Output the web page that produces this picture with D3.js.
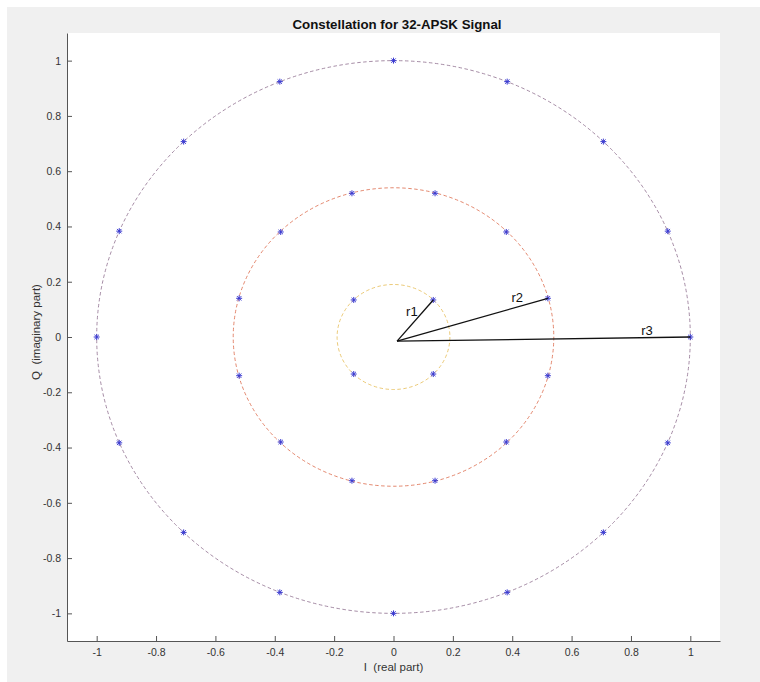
<!DOCTYPE html>
<html>
<head>
<meta charset="utf-8">
<script src="https://cdn.jsdelivr.net/npm/d3@7"></script>
<style>
  body { margin: 0; background: #fff; }
  text { font-family: "Liberation Sans", Arial, sans-serif; }
</style>
</head>
<body>
<script>
// ring radii (r1, r2, r3)
var ringRadius = [0.19, 0.54, 1.0];
var ringColor = ["#e6bd55", "#dc6a4a", "#8e6f8e"];

// constellation points
var innerI = [0.134, -0.134, -0.134, 0.134];
var innerQ = [0.134, 0.134, -0.134, -0.134];
var middleI = [0.52, 0.38, 0.14, -0.14, -0.38, -0.52, -0.52, -0.38, -0.14, 0.14, 0.38, 0.52];
var middleQ = [0.14, 0.38, 0.52, 0.52, 0.38, 0.14, -0.14, -0.38, -0.52, -0.52, -0.38, -0.14];
var outerI = [1, 0.924, 0.707, 0.383, 0, -0.383, -0.707, -0.924, -1, -0.924, -0.707, -0.383, 0, 0.383, 0.707, 0.924];
var outerQ = [0, 0.383, 0.707, 0.924, 1, 0.924, 0.707, 0.383, 0, -0.383, -0.707, -0.924, -1, -0.924, -0.707, -0.383];

// radius annotation lines
var radiusStart = [0.012, -0.015];
var radiusEndI = [0.134, 0.52, 1.0];
var radiusEndQ = [0.134, 0.14, 0.0];
var radiusLabels = ["r1", "r2", "r3"];
var labelI = [0.062, 0.417, 0.854];
var labelQ = [0.094, 0.143, 0.024];

var tickValues = [-1, -0.8, -0.6, -0.4, -0.2, 0, 0.2, 0.4, 0.6, 0.8, 1];

var width = 760, height = 682;
var svg = d3.select("body").append("svg")
  .attr("width", width)
  .attr("height", height);

svg.append("rect").attr("width", width).attr("height", height).attr("fill", "#fff");
svg.append("rect").attr("x", 7).attr("y", 7)
  .attr("width", width - 7).attr("height", height - 7)
  .attr("fill", "#f0f0f0");

var x = d3.scaleLinear().domain([-1.1, 1.1]).range([67, 720]);
var y = d3.scaleLinear().domain([-1.1, 1.1]).range([641, 33]);

svg.append("rect")
  .attr("x", x(-1.1)).attr("y", y(1.1))
  .attr("width", x(1.1) - x(-1.1)).attr("height", y(-1.1) - y(1.1))
  .attr("fill", "#fff");

// MATLAB prints a plain hyphen, not the unicode minus
function fmt(d){ return String(+d.toFixed(1)); }

// axes (MATLAB style, ticks inward)
var xAxis = svg.append("g")
  .attr("transform", "translate(0," + y(-1.1) + ")")
  .call(d3.axisBottom(x).tickValues(tickValues).tickSizeInner(-5).tickSizeOuter(0).tickPadding(6)
    .tickFormat(fmt));
var yAxis = svg.append("g")
  .attr("transform", "translate(" + x(-1.1) + ",0)")
  .call(d3.axisLeft(y).tickValues(tickValues).tickSizeInner(-5).tickSizeOuter(0).tickPadding(6)
    .tickFormat(fmt));

[xAxis, yAxis].forEach(function(a){
  a.select(".domain").attr("stroke", "#555").attr("stroke-width", 1);
  a.selectAll(".tick line").attr("stroke", "#555");
  a.selectAll(".tick text").attr("fill", "#333").attr("font-size", "10.5px")
    .attr("font-family", "Liberation Sans, Arial, sans-serif");
});
xAxis.selectAll(".tick text").attr("dy", "0.85em");

// rings
svg.selectAll(".ring").data(ringRadius).enter()
  .append("ellipse")
  .attr("class", "ring")
  .attr("cx", x(0)).attr("cy", y(0))
  .attr("rx", function(d){ return x(d) - x(0); })
  .attr("ry", function(d){ return y(0) - y(d); })
  .attr("fill", "none")
  .attr("stroke", function(d,i){ return ringColor[i]; })
  .attr("stroke-width", 0.8)
  .attr("stroke-dasharray", "3.5,2.5");

// points
var pts = [];
[[innerI, innerQ], [middleI, middleQ], [outerI, outerQ]].forEach(function(s){
  s[0].forEach(function(v, i){ pts.push([v, s[1][i]]); });
});
var star = "M-3,0H3M0,-3V3M-2.2,-2.2L2.2,2.2M-2.2,2.2L2.2,-2.2";
svg.selectAll(".pt").data(pts).enter()
  .append("path")
  .attr("class", "pt")
  .attr("d", star)
  .attr("transform", function(d){ return "translate(" + x(d[0]) + "," + y(d[1]) + ")"; })
  .attr("stroke", "#3a3ad0")
  .attr("stroke-width", 1)
  .attr("fill", "none");

// radius lines + labels
svg.selectAll(".rad").data(radiusEndI).enter()
  .append("line")
  .attr("class", "rad")
  .attr("x1", x(radiusStart[0])).attr("y1", y(radiusStart[1]))
  .attr("x2", function(d){ return x(d); })
  .attr("y2", function(d,i){ return y(radiusEndQ[i]); })
  .attr("stroke", "#111")
  .attr("stroke-width", 1.3);

svg.selectAll(".radlab").data(radiusLabels).enter()
  .append("text")
  .attr("class", "radlab")
  .attr("x", function(d,i){ return x(labelI[i]); })
  .attr("y", function(d,i){ return y(labelQ[i]); })
  .attr("text-anchor", "middle")
  .attr("dy", "0.35em")
  .attr("font-size", "13px")
  .attr("fill", "#111")
  .text(function(d){ return d; });

// title and labels
svg.append("text")
  .attr("x", 397).attr("y", 28.5)
  .attr("text-anchor", "middle")
  .attr("font-size", "13.3px")
  .attr("font-weight", "bold")
  .attr("fill", "#111")
  .text("Constellation for 32-APSK Signal");

svg.append("text")
  .attr("x", x(0)).attr("y", 671)
  .attr("text-anchor", "middle")
  .attr("font-size", "11.5px")
  .attr("fill", "#333")
  .attr("xml:space", "preserve")
  .text("I  (real part)");

svg.append("text")
  .attr("transform", "translate(40,332) rotate(-90)")
  .attr("text-anchor", "middle")
  .attr("font-size", "11.5px")
  .attr("fill", "#333")
  .attr("xml:space", "preserve")
  .text("Q  (imaginary part)");
</script>
</body>
</html>
